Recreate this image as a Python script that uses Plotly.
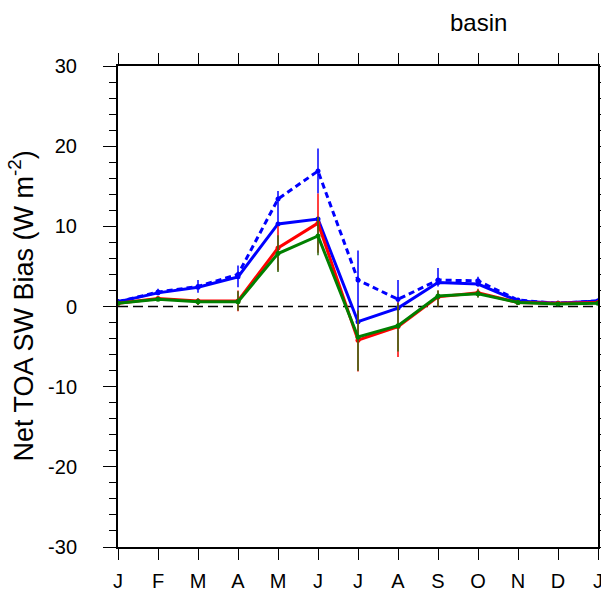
import plotly.graph_objects as go

months = ["J", "F", "M", "A", "M", "J", "J", "A", "S", "O", "N", "D", "J"]
xpos = list(range(13))

# solid blue
blue_solid = [0.6, 1.7, 2.4, 3.7, 10.3, 10.9, -1.9, -0.2, 3.0, 2.8, 0.7, 0.4, 0.7]

# dashed blue with range bars
blue_dash = [0.6, 1.8, 2.5, 4.0, 13.4, 16.9, 3.3, 0.9, 3.3, 3.2, 0.8, 0.4, 0.7]
blue_dash_hi = [0.9, 2.2, 3.3, 5.1, 14.4, 19.7, 7.0, 3.3, 4.8, 3.7, 1.0, 0.5, 0.8]
blue_dash_lo = [0.3, 1.4, 1.7, 2.4, 10.0, 14.1, -1.5, -0.4, 2.5, 2.5, 0.6, 0.3, 0.6]

red = [0.4, 1.0, 0.7, 0.7, 7.3, 10.4, -4.2, -2.5, 1.2, 1.7, 0.5, 0.4, 0.5]
red_hi = [0.5, 1.2, 1.0, 2.0, 10.0, 14.1, -0.5, 0.5, 2.0, 2.2, 0.6, 0.5, 0.6]
red_lo = [0.3, 0.8, 0.2, -0.6, 4.5, 6.7, -8.1, -6.3, 0.0, 1.2, 0.4, 0.3, 0.4]

green = [0.4, 0.9, 0.6, 0.6, 6.6, 8.8, -3.8, -2.4, 1.3, 1.6, 0.5, 0.3, 0.4]
green_hi = [0.5, 1.1, 1.0, 1.9, 8.9, 11.2, -0.5, 0.4, 2.0, 2.1, 0.6, 0.4, 0.5]
green_lo = [0.3, 0.7, 0.2, -0.5, 4.3, 6.4, -8.0, -5.6, 0.0, 1.1, 0.4, 0.2, 0.3]

yticks = [-30, -20, -10, 0, 10, 20, 30]
ytick_text = ["-30", "-20", "-10", "0", "10", "20", "30"]
ytitle = "Net TOA SW Bias (W m<sup>-2</sup>)"


def err(vals, hi, lo, color):
    return dict(type="data", symmetric=False,
                array=[h - v for h, v in zip(hi, vals)],
                arrayminus=[v - l for v, l in zip(vals, lo)],
                color=color, thickness=1.5, width=0)


fig = go.Figure()
fig.add_trace(go.Scatter(x=xpos, y=blue_dash, mode="lines+markers",
                         line=dict(color="#0000ff", width=3, dash="6px,4px"),
                         marker=dict(size=5, color="#0000ff"),
                         error_y=err(blue_dash, blue_dash_hi, blue_dash_lo, "#0000ff")))
fig.add_trace(go.Scatter(x=xpos, y=blue_solid, mode="lines+markers",
                         line=dict(color="#0000ff", width=3),
                         marker=dict(size=5, color="#0000ff")))
fig.add_trace(go.Scatter(x=xpos, y=red, mode="lines+markers",
                         line=dict(color="#ff0000", width=3),
                         marker=dict(size=5, color="#ff0000"),
                         error_y=err(red, red_hi, red_lo, "#ff0000")))
fig.add_trace(go.Scatter(x=xpos, y=green, mode="lines+markers",
                         line=dict(color="#008000", width=3),
                         marker=dict(size=5, color="#008000"),
                         error_y=err(green, green_hi, green_lo, "#2e6b10")))

fig.add_shape(type="line", xref="paper", x0=0, x1=1, yref="y", y0=0, y1=0,
              line=dict(color="black", width=1.5, dash="10px,5px"), layer="below")

fig.add_annotation(text="basin", xref="paper", yref="paper", x=0.75, y=1 + 44 / 481,
                   xanchor="center", yanchor="middle",
                   showarrow=False, font=dict(size=24, color="black"))

# y-axis title as a rotated annotation
fig.add_annotation(text=ytitle, xref="paper", yref="paper", x=(21 - 118) / 480, y=0.5,
                   xanchor="center", yanchor="middle", textangle=-90,
                   showarrow=False, font=dict(size=27, color="black"))

# last month label at the right edge (partly outside the figure, as in the reference)
fig.add_annotation(text=months[-1], xref="x", yref="paper", x=xpos[-1], y=0,
                   yshift=-34, xanchor="center", yanchor="middle",
                   showarrow=False, font=dict(size=20, color="black"))

font_family = "Liberation Sans, Arial, Helvetica, sans-serif"
fig.update_layout(
    width=601, height=592,
    margin=dict(l=118, r=3, t=66, b=45, autoexpand=False),
    paper_bgcolor="white", plot_bgcolor="white",
    showlegend=False,
    font=dict(family=font_family, color="black"),
    xaxis=dict(range=[0, 12], tickvals=xpos, ticktext=months, automargin=False,
               ticks="outside", ticklen=11, tickwidth=1.3, tickcolor="black",
               showline=True, linecolor="black", linewidth=2, mirror="allticks",
               showgrid=False, zeroline=False,
               tickfont=dict(size=20), ticklabelstandoff=4),
    yaxis=dict(range=[-30, 30], tickvals=yticks, ticktext=ytick_text, automargin=False,
               ticks="outside", ticklen=13, tickwidth=1.3, tickcolor="black",
               showline=True, linecolor="black", linewidth=2, mirror="allticks",
               showgrid=False, zeroline=False,
               tickfont=dict(size=20), ticklabelstandoff=22,
               minor=dict(dtick=2, ticks="outside", ticklen=7, tickwidth=1.3,
                          tickcolor="black", showgrid=False)),
)

fig.write_html("out.html", config={"displayModeBar": False},
               post_script="document.body.style.margin='0';document.body.style.overflow='hidden';")
